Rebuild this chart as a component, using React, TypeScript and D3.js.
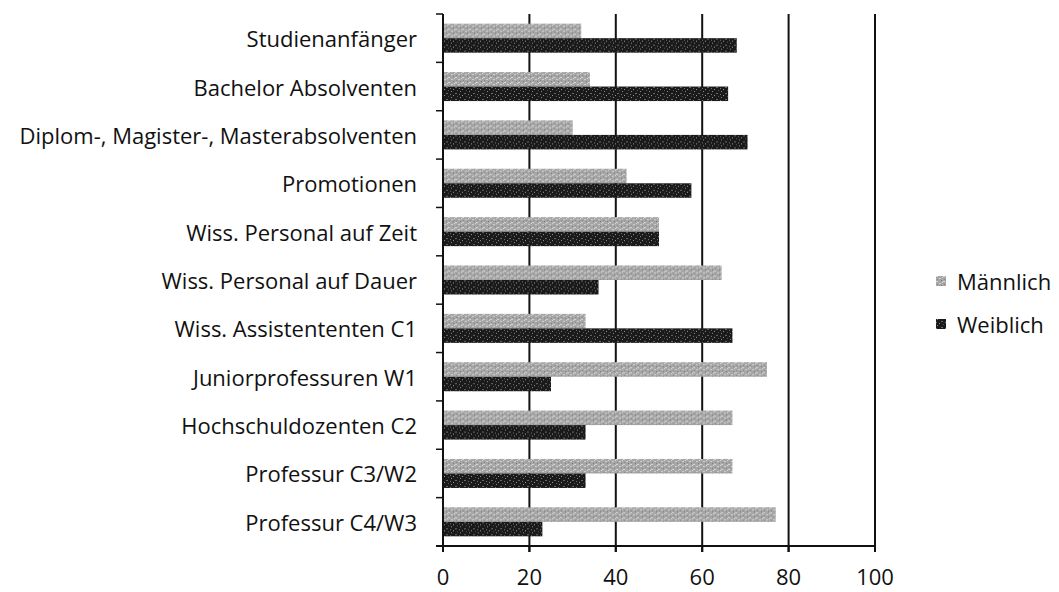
import React from "react";
import * as d3 from "d3";

const categories = [
  "Studienanfänger",
  "Bachelor Absolventen",
  "Diplom-, Magister-, Masterabsolventen",
  "Promotionen",
  "Wiss. Personal auf Zeit",
  "Wiss. Personal auf Dauer",
  "Wiss. Assistententen C1",
  "Juniorprofessuren W1",
  "Hochschuldozenten C2",
  "Professur C3/W2",
  "Professur C4/W3",
];
const maennlich = [32, 34, 30, 42.5, 50, 64.5, 33, 75, 67, 67, 77];
const weiblich = [68, 66, 70.5, 57.5, 50, 36, 67, 25, 33, 33, 23];
const seriesNames = ["Männlich", "Weiblich"];
const xTicks = [0, 20, 40, 60, 80, 100];

const W = 1059;
const H = 592;
const left = 443;
const right = 875;
const top = 14;
const bottom = 546;
const FONT = "'Open Sans', Lato, sans-serif";
const FS = 22;

export default function App() {
  const x = d3.scaleLinear().domain([0, 100]).range([left, right]);
  const y = d3.scaleBand<string>().domain(categories).range([top, bottom]).paddingInner(0.4).paddingOuter(0.2);
  const yOuter = d3.scaleBand<string>().domain(categories).range([top, bottom]);
  const sub = d3.scaleBand<string>().domain(seriesNames).range([0, y.bandwidth()]);
  const series = [maennlich, weiblich];
  const fills = ["url(#pLight)", "url(#pDark)"];

  return (
    <svg width={W} height={H} style={{ position: "absolute", left: 0, top: 0, background: "#fff" }}>
      <defs>
        <pattern id="pLight" width="7" height="5" patternUnits="userSpaceOnUse">
          <rect width="7" height="5" fill="#a6a6a6" />
          <rect x="0" y="0" width="2" height="1" fill="#d6d6d6" />
          <rect x="3" y="2" width="2" height="1" fill="#cfcfcf" />
          <rect x="5" y="4" width="1" height="1" fill="#7a7a7a" />
          <rect x="1" y="3" width="1" height="1" fill="#888" />
          <rect x="6" y="1" width="1" height="1" fill="#dcdcdc" />
        </pattern>
        <pattern id="pDark" width="9" height="6" patternUnits="userSpaceOnUse">
          <rect width="9" height="6" fill="#1a1a1a" />
          <rect x="1" y="1" width="1" height="1" fill="#8a8a8a" />
          <rect x="5" y="3" width="2" height="1" fill="#6a6a6a" />
          <rect x="3" y="5" width="1" height="1" fill="#9a9a9a" />
          <rect x="7" y="0" width="1" height="1" fill="#555" />
          <rect x="0" y="4" width="1" height="1" fill="#777" />
        </pattern>
      </defs>

      {/* gridlines */}
      {xTicks.filter((t) => t > 0).map((t) => (
        <line key={"g" + t} x1={x(t)} x2={x(t)} y1={top} y2={bottom + 6} stroke="#111" strokeWidth={2} />
      ))}

      {/* bars */}
      {categories.map((c, i) => (
        <g key={c} transform={`translate(0,${y(c)})`}>
          {series.map((s, j) => (
            <rect
              key={j}
              x={x(0)}
              y={sub(seriesNames[j])}
              width={x(s[i]) - x(0)}
              height={sub.bandwidth()}
              fill={fills[j]}
            />
          ))}
        </g>
      ))}

      {/* left axis */}
      <line x1={left} x2={left} y1={top} y2={bottom} stroke="#111" strokeWidth={2} />
      {categories.map((c) => (
        <line key={"t" + c} x1={left - 7} x2={left} y1={yOuter(c)!} y2={yOuter(c)!} stroke="#111" strokeWidth={1.5} />
      ))}
      <line x1={left - 7} x2={left} y1={bottom} y2={bottom} stroke="#111" strokeWidth={1.5} />
      {categories.map((c) => (
        <text
          key={"l" + c}
          x={left - 26}
          y={yOuter(c)! + yOuter.bandwidth() / 2}
          textAnchor="end"
          dominantBaseline="central"
          fontFamily={FONT}
          fontSize={FS}
          fill="#111"
        >
          {c}
        </text>
      ))}

      {/* bottom axis */}
      <line x1={left - 7} x2={right} y1={bottom} y2={bottom} stroke="#111" strokeWidth={2} />
      {xTicks.map((t) => (
        <g key={"x" + t}>
          <line x1={x(t)} x2={x(t)} y1={bottom} y2={bottom + 6} stroke="#111" strokeWidth={2} />
          <text x={x(t)} y={576} textAnchor="middle" dominantBaseline="central" fontFamily={FONT} fontSize={FS} fill="#111">
            {t}
          </text>
        </g>
      ))}

      {/* legend */}
      {seriesNames.map((n, j) => (
        <g key={n} transform={`translate(936,${281 + j * 43})`}>
          <rect x={0} y={-5} width={10} height={10} fill={fills[j]} />
          <text x={21} y={0} dominantBaseline="central" fontFamily={FONT} fontSize={FS} fill="#111">
            {n}
          </text>
        </g>
      ))}
    </svg>
  );
}
